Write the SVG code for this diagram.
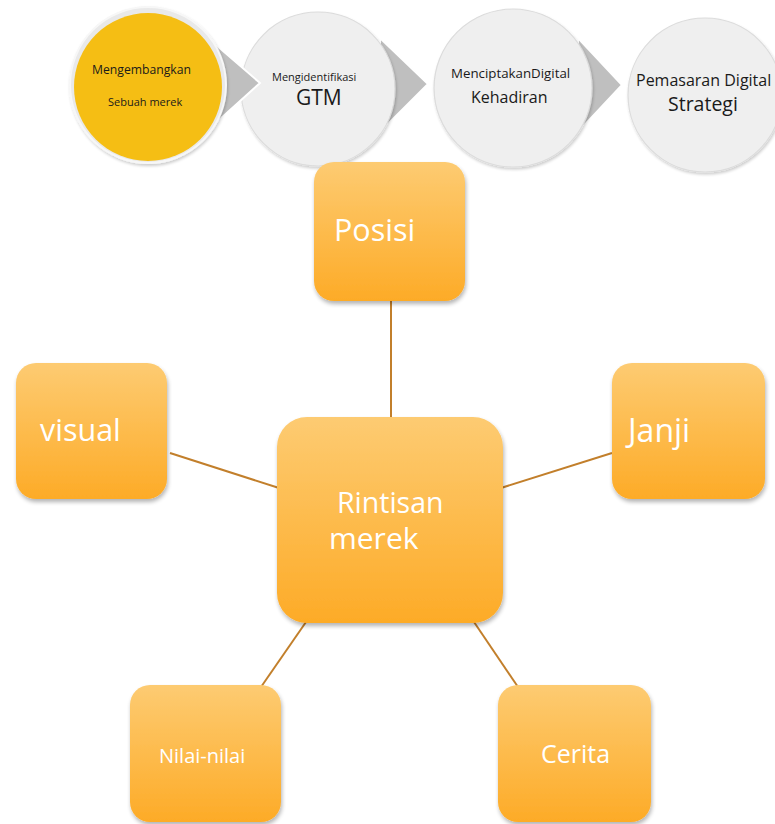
<svg xmlns="http://www.w3.org/2000/svg" width="775" height="824" viewBox="0 0 775 824">
<defs>
<linearGradient id="og" x1="0" y1="0" x2="0" y2="1">
<stop offset="0" stop-color="#fdcb72"/>
<stop offset="1" stop-color="#fdab27"/>
</linearGradient>
<filter id="sh" x="-20%" y="-20%" width="140%" height="140%">
<feGaussianBlur in="SourceAlpha" stdDeviation="2"/>
<feOffset dx="1" dy="3"/>
<feComponentTransfer><feFuncA type="linear" slope="0.3"/></feComponentTransfer>
<feMerge><feMergeNode/><feMergeNode in="SourceGraphic"/></feMerge>
</filter>
<filter id="csh" x="-20%" y="-20%" width="140%" height="140%">
<feGaussianBlur in="SourceAlpha" stdDeviation="1.5"/>
<feOffset dx="1" dy="2"/>
<feComponentTransfer><feFuncA type="linear" slope="0.2"/></feComponentTransfer>
<feMerge><feMergeNode/><feMergeNode in="SourceGraphic"/></feMerge>
</filter>
</defs>
<style>
.box{fill:url(#og);filter:url(#sh)}
.circ{fill:#efefef;stroke:#dcdcdc;stroke-width:1.2;filter:url(#csh)}
.tri{fill:#bfbfbf;stroke:#ffffff;stroke-width:2}
.lbl{font-family:"Open Sans","Noto Sans","DejaVu Sans",sans-serif;fill:#ffffff}
.dk{font-family:"Open Sans","Noto Sans","DejaVu Sans",sans-serif;fill:#1a1a1a}
.con{stroke:#c27f2b;stroke-width:2;fill:none}
</style>
<rect width="775" height="824" fill="#ffffff"/>

<g id="connectors">
<line class="con" x1="391" y1="300" x2="391" y2="418"/>
<line class="con" x1="170" y1="453" x2="279" y2="488"/>
<line class="con" x1="501" y1="488" x2="612" y2="453"/>
<line class="con" x1="261" y1="687" x2="306" y2="622"/>
<line class="con" x1="474" y1="622" x2="518" y2="687"/>
</g>

<g id="step4">
<circle class="circ" cx="705" cy="95" r="77"/>
<text class="dk" x="636" y="86" font-size="16">Pemasaran Digital</text>
<text class="dk" x="668" y="111" font-size="19.5">Strategi</text>
</g>
<g id="arrow3"><polygon class="tri" points="578,38 622,85 578,132"/></g>
<g id="step3">
<circle class="circ" cx="513" cy="88" r="79"/>
<text class="dk" x="451" y="78" font-size="13.3">MenciptakanDigital</text>
<text class="dk" x="471" y="103" font-size="16">Kehadiran</text>
</g>
<g id="arrow2"><polygon class="tri" points="380,38 428,84 380,132"/></g>
<g id="step2">
<circle class="circ" cx="318" cy="89" r="77"/>
<text class="dk" x="272" y="81" font-size="11">Mengidentifikasi</text>
<text class="dk" x="296" y="105" font-size="21">GTM</text>
</g>
<g id="arrow1"><polygon class="tri" points="208,38 260,83 208,130"/></g>
<g id="step1">
<circle cx="148" cy="85" r="78" fill="#e9e9e9" stroke="#f7f7f7" stroke-width="2" filter="url(#csh)"/>
<circle cx="148" cy="87" r="74" fill="#f5be14"/>
<text class="dk" x="92" y="74" font-size="12.2">Mengembangkan</text>
<text class="dk" x="108" y="106" font-size="11">Sebuah merek</text>
</g>

<g id="posisi">
<rect class="box" x="314" y="162" width="151" height="139" rx="20"/>
<text class="lbl" x="334" y="241" font-size="30.5">Posisi</text>
</g>
<g id="center">
<rect class="box" x="277" y="417" width="226" height="206" rx="30"/>
<text class="lbl" x="337" y="513" font-size="28.5">Rintisan</text>
<text class="lbl" x="329" y="549" font-size="30">merek</text>
</g>
<g id="visual">
<rect class="box" x="16" y="363" width="151" height="136" rx="20"/>
<text class="lbl" x="40" y="441" font-size="30.5">visual</text>
</g>
<g id="janji">
<rect class="box" x="612" y="363" width="153" height="136" rx="20"/>
<text class="lbl" x="628" y="442" font-size="32">Janji</text>
</g>
<g id="nilai">
<rect class="box" x="130" y="685" width="151" height="137" rx="20"/>
<text class="lbl" x="159" y="763" font-size="20">Nilai-nilai</text>
</g>
<g id="cerita">
<rect class="box" x="498" y="685" width="153" height="137" rx="20"/>
<text class="lbl" x="541" y="763" font-size="25">Cerita</text>
</g>
</svg>
